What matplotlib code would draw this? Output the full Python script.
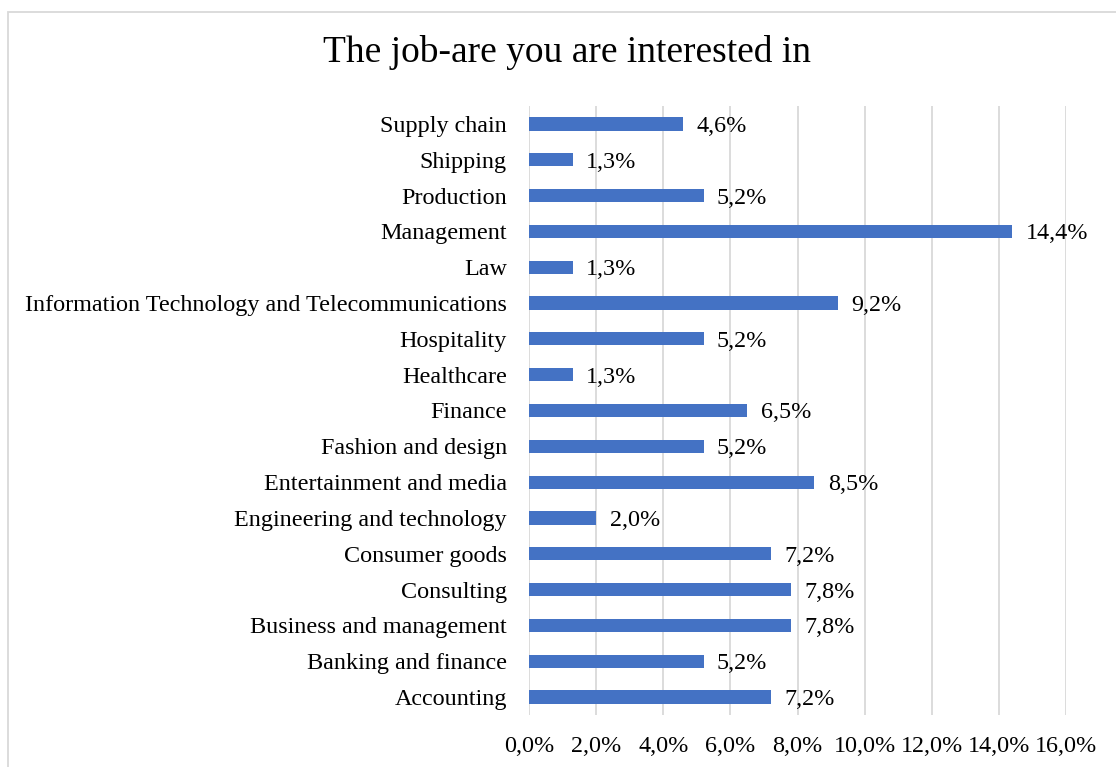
import matplotlib
matplotlib.use("Agg")
import matplotlib.pyplot as plt
from matplotlib.patches import Rectangle

categories = [
    "Accounting", "Banking and finance", "Business and management", "Consulting",
    "Consumer goods", "Engineering and technology", "Entertainment and media",
    "Fashion and design", "Finance", "Healthcare", "Hospitality",
    "Information Technology and Telecommunications", "Law", "Management",
    "Production", "Shipping", "Supply chain",
]
shares = [7.2, 5.2, 7.8, 7.8, 7.2, 2.0, 8.5, 5.2, 6.5, 1.3, 5.2, 9.2, 1.3, 14.4, 5.2, 1.3, 4.6]
x_ticks = [0, 2, 4, 6, 8, 10, 12, 14, 16]
title = "The job-are you are interested in"

plt.rcParams["font.family"] = ["Liberation Serif", "DejaVu Serif"]

fig = plt.figure(figsize=(11.16, 7.67), dpi=100)
ax = fig.add_axes([529 / 1116, 1 - 715 / 767, (1066 - 529) / 1116, (715 - 106) / 767])

bar_color = "#4472C4"
ypos = list(range(len(categories)))
ax.barh(ypos, shares, height=0.37, color=bar_color, zorder=3)

for y, v in zip(ypos, shares):
    ax.text(v + 0.4, y, f"{v:.1f}%".replace(".", ","), va="center_baseline", ha="left",
            fontsize=17.4, color="#000000")

ax.set_xlim(0, 16)
ax.set_ylim(-0.5, len(categories) - 0.5)
ax.set_yticks(ypos)
ax.set_yticklabels(categories, fontsize=17.4, va="center_baseline")
ax.set_xticks(x_ticks)
ax.set_xticklabels([f"{t:.1f}%".replace(".", ",") for t in x_ticks], fontsize=17.4)
ax.tick_params(axis="both", length=0)
ax.tick_params(axis="y", pad=16)
ax.tick_params(axis="x", pad=15)
ax.xaxis.grid(True, color="#d9d9d9", linewidth=1.3, zorder=0)
ax.yaxis.grid(False)
for s in ax.spines.values():
    s.set_visible(False)

fig.text(567 / 1116, 1 - 52 / 767, title, ha="center", va="center", fontsize=27)

fig.patches.append(Rectangle((8 / 1116, -0.05), 1.1, 1 - 11.5 / 767 + 0.05,
                             transform=fig.transFigure, fill=False,
                             edgecolor="#d9d9d9", linewidth=1.3))

fig.savefig("out.png", dpi=100)
